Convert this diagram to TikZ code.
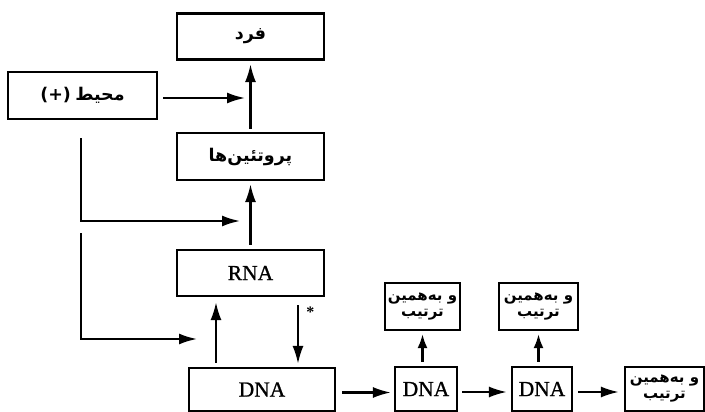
\documentclass[tikz,border=0pt]{standalone}
\usepackage{fontspec}
\setmainfont{Liberation Serif}
\newfontfamily\inkserif[FakeBold=1]{Liberation Serif}
\newfontfamily\fa[Script=Arabic]{DejaVu Sans}
\TeXXeTstate=1
\usetikzlibrary{arrows.meta}
% Persian label, set right to left in bold
\newcommand\fatext[1]{{\fa\bfseries\beginR #1\endR}}
\begin{document}
\begin{tikzpicture}[x=1pt,y=-1pt,
  box/.style={draw, line width=2.2pt, inner sep=0pt, align=center},
  lat/.style={font=\inkserif\fontsize{21.5}{24}\selectfont},
  per/.style={font=\fontsize{17.5}{20}\selectfont},
  smallper/.style={font=\fontsize{15}{17}\selectfont},
  conn/.style={line width=2.2pt, -{Latex[length=18pt,width=11pt]}},
  shortconn/.style={line width=2.2pt, -{Latex[length=14pt,width=10pt]}},
]
\useasboundingbox (0,0) rectangle (705,412);

% main chain
\node[box, per, minimum width=147pt, minimum height=46pt] (fard) at (250.5,36.5) {\fatext{فرد}};
\node[box, per, minimum width=149pt, minimum height=47pt] (mohit) at (82.5,95.5) {{\fa\bfseries(+)}~\fatext{محیط}};
\node[box, per, minimum width=147pt, minimum height=47pt] (prot) at (250.5,156.5) {\fatext{پروتئین‌ها}};
\node[box, lat, minimum width=147pt, minimum height=46pt] (rna) at (250.5,273) {RNA};
\node[box, lat, minimum width=146pt, minimum height=43pt] (dna) at (262,389.5) {DNA};

% replication row
\node[box, lat, minimum width=62pt, minimum height=44pt] (dna1) at (426,389) {DNA};
\node[box, lat, minimum width=60pt, minimum height=44pt] (dna2) at (542,389) {DNA};
\node[box, smallper, minimum width=75pt, minimum height=47pt] (top1) at (422.5,306.5) {\fatext{و به‌همین}\\[-1pt]\fatext{ترتیب}};
\node[box, smallper, minimum width=79pt, minimum height=47pt] (top2) at (538.5,306.5) {\fatext{و به‌همین}\\[-1pt]\fatext{ترتیب}};
\node[box, smallper, minimum width=79pt, minimum height=44pt] (rest) at (664.5,389) {\fatext{و به‌همین}\\[-1pt]\fatext{ترتیب}};

% environment influences
\coordinate (lx) at (81,0);
\coordinate (e1) at (245,98);
\coordinate (e2) at (240,221);
\coordinate (e3s) at (81,233);
\coordinate (e3) at (197,339);
\draw[conn, shorten <=5pt] (mohit.east |- e1) -- (e1);
\draw[conn, shorten <=18pt] (mohit.south -| lx) |- (e2);
\draw[conn] (e3s) |- (e3);

% expression and feedback
\draw[conn, shorten <=3pt, shorten >=3.5pt] (prot.north) -- (fard.south);
\draw[conn, shorten <=4pt, shorten >=3pt] (rna.north) -- (prot.south);
\draw[conn, shorten <=4pt, shorten >=5pt] ([xshift=-46pt]dna.north) -- ([xshift=-34.5pt]rna.south);
\draw[conn, shorten <=8pt, shorten >=3pt] ([xshift=47.5pt]rna.south) -- ([xshift=36pt]dna.north)
  node[pos=0.22, right=4pt, font=\fontsize{16}{16}\bfseries\selectfont] (star) {*};

% replication
\draw[conn, shorten <=6pt, shorten >=3pt] ([yshift=-3pt]dna.east) -- ([yshift=-3pt]dna.east -| dna1.west);
\draw[shortconn, shorten <=4pt, shorten >=3pt] (top1.south |- dna1.north) -- (top1.south);
\draw[conn, shorten <=4pt, shorten >=4pt] ([yshift=-3pt]dna1.east) -- ([yshift=-3pt]dna1.east -| dna2.west);
\draw[shortconn, shorten <=4pt, shorten >=3pt] (top2.south |- dna2.north) -- (top2.south);
\draw[conn, shorten <=5pt, shorten >=5pt] ([yshift=-3pt]dna2.east) -- ([yshift=-3pt]dna2.east -| rest.west);
\end{tikzpicture}
\end{document}
